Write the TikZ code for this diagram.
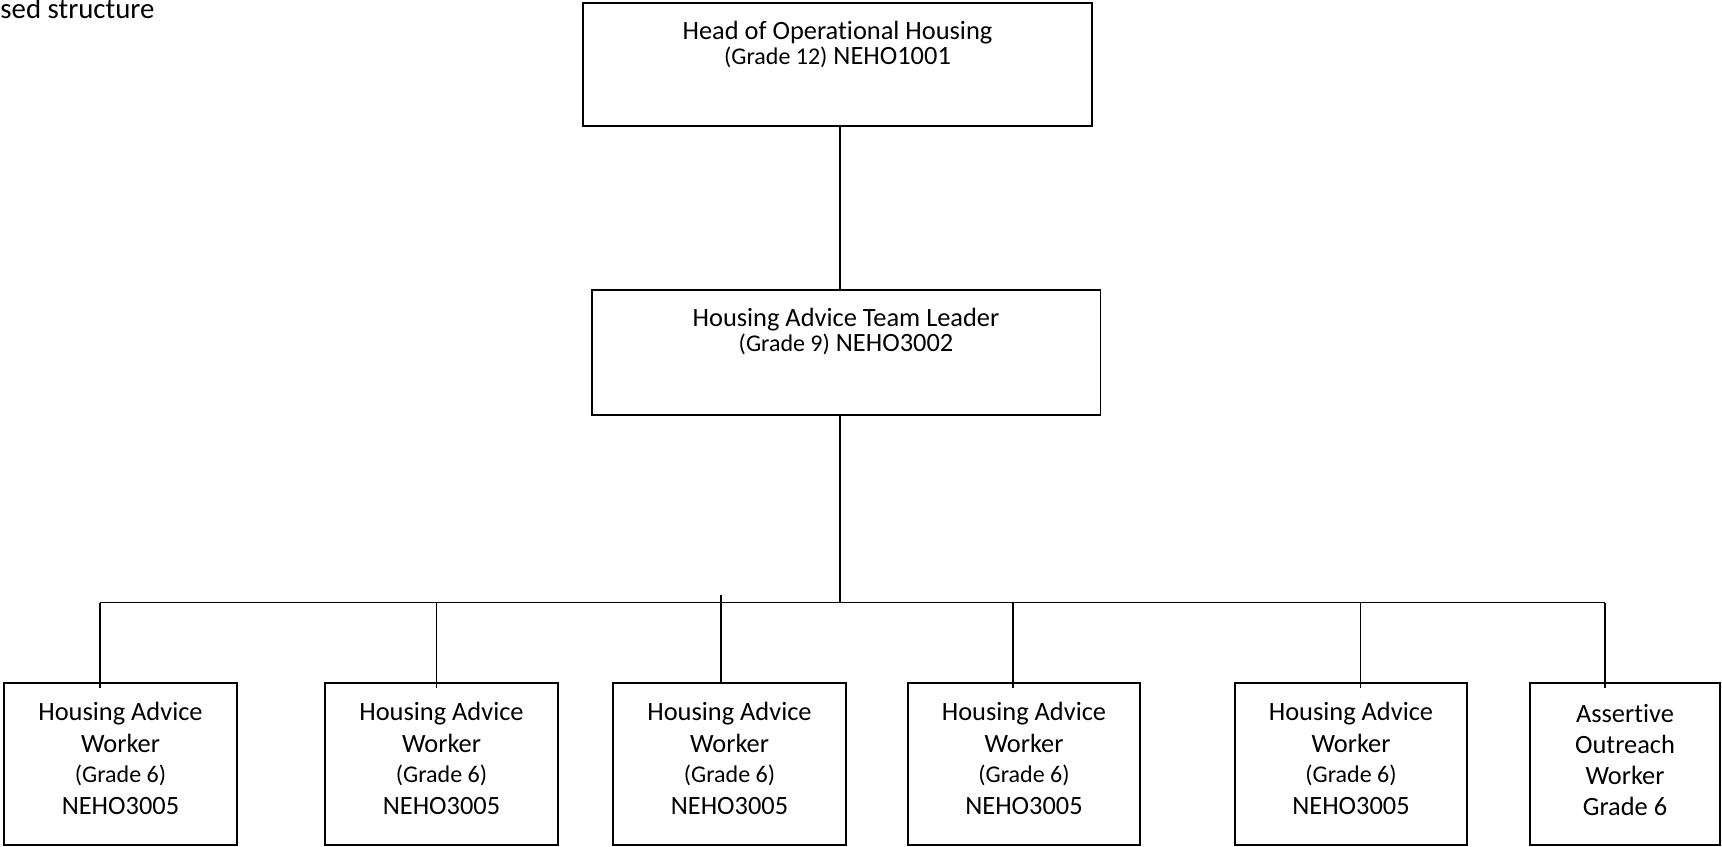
\documentclass[tikz,border=0pt]{standalone}
\usepackage{fontspec}
\setmainfont{Carlito}[Ligatures={NoCommon,NoContextual}, RawFeature={-liga;-clig;-calt;-dlig}]
\usetikzlibrary{fit}
\begin{document}
\begin{tikzpicture}[x=0.416667pt,y=-0.416667pt,
  box/.style={draw, line width=0.8pt, inner sep=0pt, outer sep=0pt, rectangle},
  conn/.style={line width=0.8pt},
  tmain/.style={anchor=base, inner sep=0pt, font=\fontsize{11pt}{13.4pt}\selectfont},
  tsmall/.style={anchor=base, inner sep=0pt, font=\fontsize{10pt}{12.2pt}\selectfont},
  ttitle/.style={anchor=base west, inner sep=0pt, font=\fontsize{12pt}{14.6pt}\selectfont}]
\useasboundingbox (0,0) rectangle (1722,847);

% title fragment
\node[ttitle] (title) at (0,19) {sed structure};

% boxes
\node[box, fit={(583,3) (1092,126)}] (top) {};
\node[box, fit={(592,290) (1100.5,415)}] (lead) {};
\node[box, fit={(4,683) (237,845)}] (w1) {};
\node[box, fit={(325,683) (558,845)}] (w2) {};
\node[box, fit={(613,683) (846,845)}] (w3) {};
\node[box, fit={(908,683) (1140,845)}] (w4) {};
\node[box, fit={(1235,683) (1467,845)}] (w5) {};
\node[box, fit={(1530,683) (1720,845)}] (w6) {};

% texts
\node[tmain] (topA) at (837.5,40) {Head of Operational Housing};
\node[tmain] (topB) at (837.5,65) {{\fontsize{10pt}{12.2pt}\selectfont (Grade 12)} NEHO1001};
\node[tmain] (leadA) at (846,327) {Housing Advice Team Leader};
\node[tmain] (leadB) at (846,351.5) {{\fontsize{10pt}{12.2pt}\selectfont (Grade 9)} NEHO3002};

\foreach \i/\cx in {1/120.5,2/441.5,3/729.5,4/1024,5/1351}{
  \node[tmain] (w\i-l1) at (\cx,720) {Housing Advice};
  \node[tmain] (w\i-l2) at (\cx,752.5) {Worker};
  \node[tsmall] (w\i-l3) at (\cx,782) {(Grade 6)};
  \node[tmain] (w\i-l4) at (\cx,814) {NEHO3005};
}
\node[tmain] (w6-l1) at (1625,722) {Assertive};
\node[tmain] (w6-l2) at (1625,753) {Outreach};
\node[tmain] (w6-l3) at (1625,784) {Worker};
\node[tmain] (w6-l4) at (1625,815.5) {Grade 6};

% connectors
\coordinate (spine) at (840,602.5);
\coordinate (d1) at (100,602.5);
\coordinate (d2) at (436.5,602.5);
\coordinate (d3) at (721,595);
\coordinate (d4) at (1013,602.5);
\coordinate (d5) at (1360.5,602.5);
\coordinate (d6) at (1605,602.5);

\draw[conn] (spine |- top.south) -- (spine |- lead.north);
\draw[conn] (spine |- lead.south) -- (spine);
\draw[conn] (d1) -- (d6);
\draw[conn] (d1) -- ([yshift=-2pt]d1 |- w1.north);
\draw[conn] (d2) -- ([yshift=-2pt]d2 |- w2.north);
\draw[conn] (d3) -- (d3 |- w3.north);
\draw[conn] (d4) -- ([yshift=-2pt]d4 |- w4.north);
\draw[conn] (d5) -- ([yshift=-2pt]d5 |- w5.north);
\draw[conn] (d6) -- ([yshift=-2pt]d6 |- w6.north);
\end{tikzpicture}
\end{document}
